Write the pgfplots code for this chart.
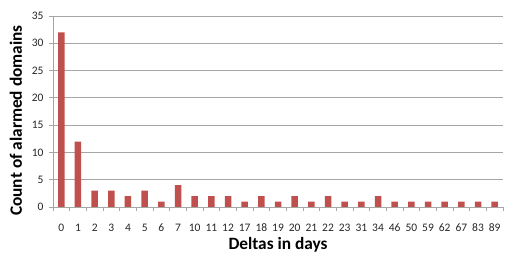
\documentclass[border=0pt]{standalone}
\usepackage{pgfplots}
\pgfplotsset{compat=1.18}
\usepackage{fontspec}
\setmainfont{Carlito}
\definecolor{barred}{HTML}{C0504D}
\definecolor{gridgrey}{HTML}{A6A6A6}
\definecolor{txt}{HTML}{262626}
\begin{document}
\begin{tikzpicture}
\useasboundingbox (-53bp,-46bp) rectangle (452bp,207bp);
\begin{axis}[
  scale only axis,
  width=450bp, height=191bp,
  at={(0,0)}, anchor=south west,
  xmin=-0.5, xmax=26.5,
  ymin=0, ymax=35,
  ytick={0,5,...,35},
  xtick={0,...,26},
  xticklabels={0,1,2,3,4,5,6,7,10,11,12,17,18,19,20,21,22,23,31,34,46,50,59,62,67,83,89},
  minor xtick={-0.5,0.5,...,26.5},
  major x tick style={draw=none},
  minor tick length=4bp,
  major tick length=4bp,
  tick align=outside,
  xtick pos=bottom, ytick pos=left,
  tick style={gridgrey, line width=0.8bp},
  ymajorgrids,
  grid style={gridgrey, line width=0.8bp},
  axis x line*=bottom,
  axis y line*=left,
  axis line style={gridgrey, line width=0.8bp},
  ticklabel style={font=\fontsize{11.5bp}{13bp}\selectfont, text=txt},
  /pgf/number format/assume math mode=true,
  xticklabel style={anchor=base, yshift=-20bp},
  yticklabel style={xshift=-2bp},
  xlabel={Deltas in days},
  ylabel={Count of alarmed domains},
  label style={font=\bfseries\fontsize{17.3bp}{19bp}\selectfont, text=black},
  xlabel style={at={(axis description cs:0.5,0)}, anchor=base, yshift=-42bp},
  ylabel style={at={(axis description cs:0,0.453)}, anchor=base, yshift=31bp},
]
\addplot[ybar, bar width=6.5bp, fill=barred, draw=none] coordinates {
(0,32) (1,12) (2,3) (3,3) (4,2) (5,3) (6,1) (7,4) (8,2) (9,2) (10,2) (11,1) (12,2) (13,1)
(14,2) (15,1) (16,2) (17,1) (18,1) (19,2) (20,1) (21,1) (22,1) (23,1) (24,1) (25,1) (26,1)
};
\end{axis}
\end{tikzpicture}
\end{document}
